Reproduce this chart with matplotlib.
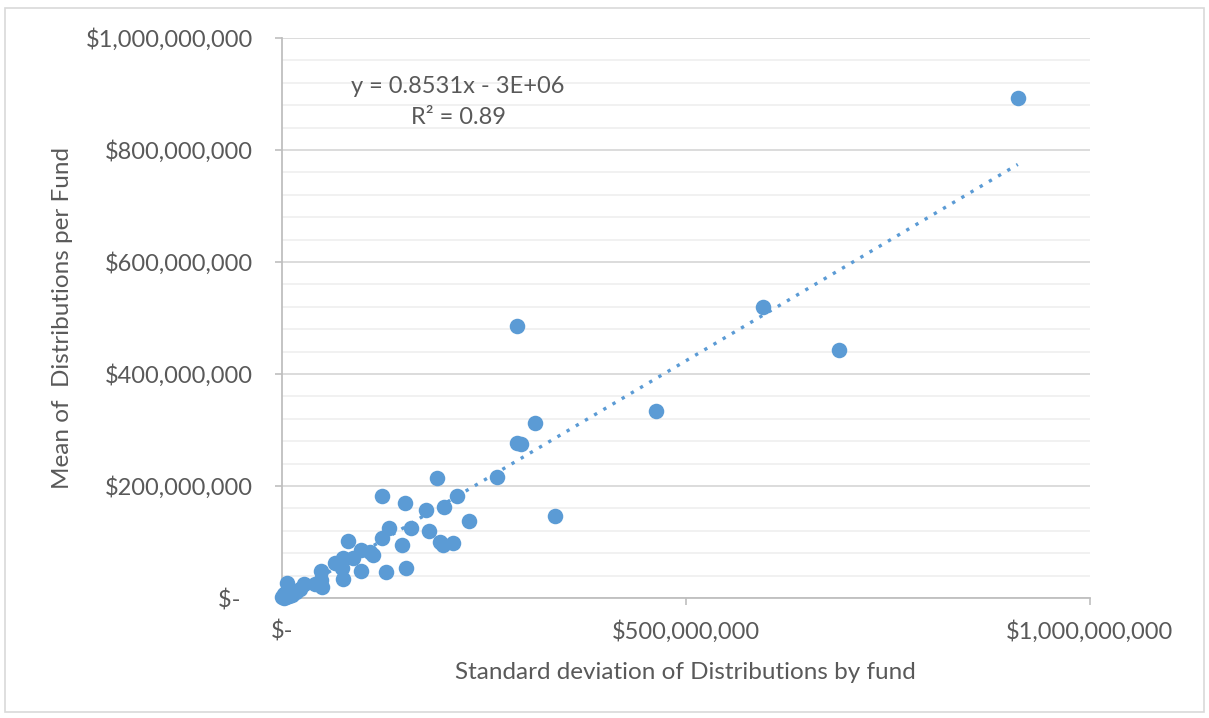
import matplotlib
matplotlib.use('Agg')
from matplotlib import pyplot as plt
from matplotlib.patches import Rectangle
import numpy as np

# values in millions of dollars
std_dev = [911, 595, 690, 291, 463, 313, 291, 296, 338, 266, 192, 217, 124, 152, 178, 201,
           231, 132, 160, 182, 149, 196, 199, 212, 82, 124, 98, 109, 112, 65, 75, 88,
           74, 98, 129, 153, 75, 48, 48, 50, 41, 27, 6, 17, 22, 10, 5, 2, 12, 0, 7, 3, 15, 9]
mean_dist = [893, 520, 443, 486, 334, 312, 277, 275, 146, 216, 214, 182, 182, 170, 157, 162,
             138, 125, 125, 120, 95, 100, 95, 98, 102, 107, 86, 82, 77, 62, 71, 72,
             54, 48, 46, 54, 34, 48, 32, 20, 25, 25, 27, 11, 16, 7, 2, 0, 5, 1, 3, 8, 10, 4]
slope, intercept = 0.8531, -3.0  # intercept in millions
x_ticks = [0, 500, 1000]
x_labels = ['$-', '$500,000,000', '$1,000,000,000']
y_ticks = [0, 200, 400, 600, 800, 1000]
y_labels = ['$-  ', '$200,000,000', '$400,000,000', '$600,000,000', '$800,000,000', '$1,000,000,000']

plt.rcParams['font.family'] = ['Lato', 'DejaVu Sans']
blue = '#5B9BD5'
txt = '#595959'

fig = plt.figure(figsize=(12.09, 7.18), dpi=100)
fig.patches.append(Rectangle((0.004, 0.008), 0.992, 0.981, transform=fig.transFigure,
                             fill=False, edgecolor='#D9D9D9', linewidth=1.2))
ax = fig.add_axes([0.2333, 0.1671, 0.668, 0.78])

ax.set_xlim(0, 1000)
ax.set_ylim(0, 1000)
ax.set_yticks(np.arange(0, 1001, 40), minor=True)
ax.grid(True, which='minor', axis='y', color='#F0F0F0', linewidth=1.3)
ax.grid(True, which='major', axis='y', color='#D9D9D9', linewidth=1.3)
ax.set_axisbelow(True)

xs = np.array(std_dev)
ax.scatter(xs, mean_dist, s=125, color=blue, zorder=3, linewidths=0, clip_on=False)
xt = np.linspace(xs.min(), xs.max(), 50)
ax.plot(xt, slope * xt + intercept, linestyle=(0, (1, 2.2)), color=blue, linewidth=2.4, zorder=2)

ax.set_xticks(x_ticks)
ax.set_xticklabels(x_labels)
ax.set_yticks(y_ticks)
ax.set_yticklabels(y_labels)
ax.tick_params(axis='both', which='major', labelsize=17, labelcolor=txt, color='#BFBFBF', length=5, width=1.2)
ax.tick_params(axis='x', pad=11)
ax.tick_params(axis='y', pad=16)
ax.tick_params(which='minor', length=0)
for s in ['top', 'right']:
    ax.spines[s].set_visible(False)
for s in ['left', 'bottom']:
    ax.spines[s].set_color('#BFBFBF')
    ax.spines[s].set_linewidth(1.3)

ax.set_xlabel('Standard deviation of Distributions by fund', fontsize=17.5, color=txt, labelpad=14)
ax.set_ylabel('Mean of  Distributions per Fund', fontsize=17.5, color=txt, labelpad=9)

ax.text(218, 913, 'y = 0.8531x - 3E+06', ha='center', va='center', fontsize=17, color=txt)
ax.text(218, 858, 'R² = 0.89', ha='center', va='center', fontsize=17, color=txt)

plt.savefig('out.png', dpi=100)
